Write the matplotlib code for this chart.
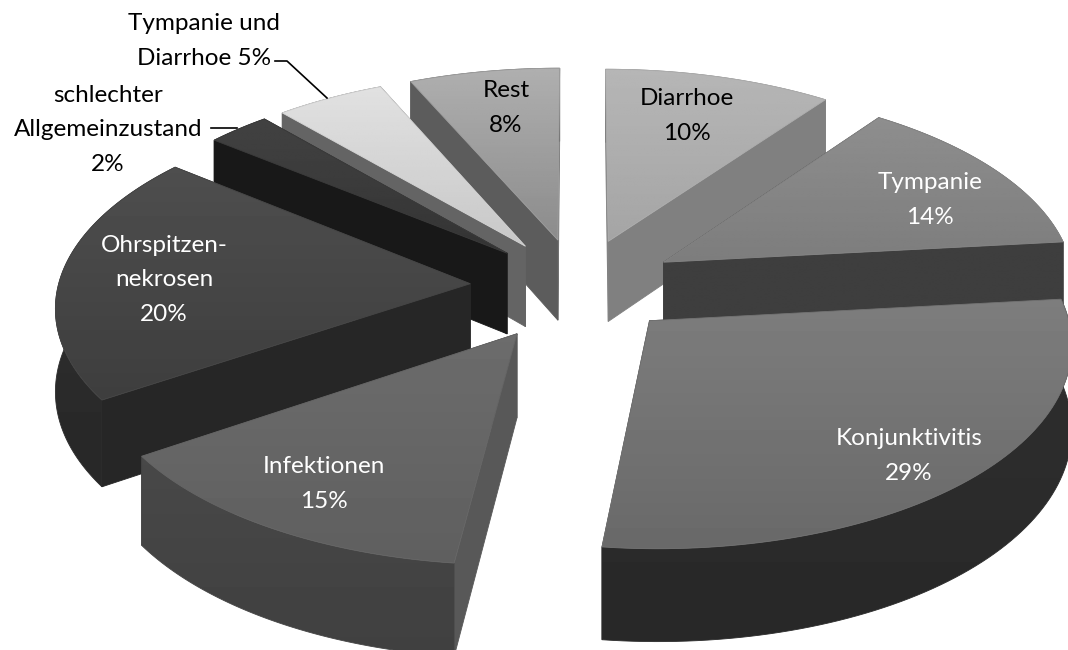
import numpy as np
import matplotlib
matplotlib.use("Agg")
import matplotlib.pyplot as plt
from matplotlib.patches import Polygon

# clockwise from 12 o'clock
names = ["Diarrhoe", "Tympanie", "Konjunktivitis", "Infektionen", "Ohrspitzen-\nnekrosen",
         "schlechter\nAllgemeinzustand", "Tympanie und\nDiarrhoe", "Rest"]
values = [10, 14, 29, 15, 20, 2, 5, 8]
# slice sizes, the printed labels add up to 103
shares = [10.0, 13.3, 28.6, 13.7, 20.2, 2.8, 4.8, 6.6]
seps = ["\n", "\n", "\n", "\n", "\n", "\n", " ", "\n"]

# grey levels: top (far, near), outer wall, cut wall at start angle, cut wall at end angle
top_grey = [(182, 165), (142, 125), (125, 105), (108, 95), (78, 62), (66, 52), (225, 200), (175, 140)]
outer_grey = [130, 90, 48, 72, 48, 40, 110, 100]
start_grey = [130, 62, 60, 88, 38, 24, 100, 92]
end_grey = [128, 62, 60, 60, 45, 40, 100, 125]

label_x = [687, 930, 909, 324, 164, 108, 204, 506]
label_y = [116, 200, 456, 484, 280, 130, 41, 108]
label_col = ["black", "white", "white", "white", "white", "black", "black", "black"]
explode = [100, 100, 100, 114, 108, 100, 100, 100]

CX, CY = 578, 286
R = 412
TILT = 0.48
PERSP = 0.10
WALL = 82


def project(x, y, z=0.0):
    s = 1.0 / (1.0 + PERSP * y / R)
    return CX + x * s, CY - y * TILT * s + z * s


layer = [1]


def shade(ax, pts, g0, g1):
    # vertical grey gradient clipped to the polygon
    pts = np.array(pts)
    y0, y1 = pts[:, 1].min(), pts[:, 1].max()
    x0, x1 = pts[:, 0].min(), pts[:, 0].max()
    grad = np.linspace(g0, g1, 64).reshape(-1, 1)
    im = ax.imshow(grad, cmap="gray", vmin=0, vmax=255, aspect="auto",
                   extent=(x0, x1, y1, y0), interpolation="bilinear", zorder=layer[0])
    patch = Polygon(pts, closed=True, transform=ax.transData, fc="none", ec="none")
    ax.add_patch(patch)
    im.set_clip_path(patch)
    # edge line hides the clip seam
    ax.add_patch(Polygon(pts, closed=True, fc="none", ec=str((g0 + g1) / 510.0), lw=0.6,
                         zorder=layer[0] + 0.5))
    layer[0] += 1


fig = plt.figure(figsize=(10.68, 6.5), dpi=100)
ax = fig.add_axes([0, 0, 1, 1])

fractions = np.array(shares) / sum(shares)
edges = np.concatenate([[0], np.cumsum(fractions)]) * 2 * np.pi
mids = (edges[:-1] + edges[1:]) / 2

# far slices first so the near ones paint over them
order = np.argsort(-np.cos(mids))
for i in order:
    ox, oy = explode[i] * np.sin(mids[i]), explode[i] * np.cos(mids[i])
    t = np.linspace(edges[i], edges[i + 1], 80)
    ax_x = ox + R * np.sin(t)
    ax_y = oy + R * np.cos(t)

    tip_top = project(ox, oy)
    tip_bot = project(ox, oy, WALL)
    arc_top = list(zip(*project(ax_x, ax_y)))
    arc_bot = list(zip(*project(ax_x, ax_y, WALL)))

    wall_a = ([tip_top, arc_top[0], arc_bot[0], tip_bot], start_grey[i])
    wall_b = ([tip_top, arc_top[-1], arc_bot[-1], tip_bot], end_grey[i])
    if arc_top[0][1] < arc_top[-1][1]:
        far, near = wall_a, wall_b
    else:
        far, near = wall_b, wall_a
    rim = arc_top + arc_bot[::-1]

    shade(ax, far[0], far[1], far[1])
    # back slices show the cut wall over the rim, front slices the other way round
    if np.cos(mids[i]) > 0:
        shade(ax, rim, outer_grey[i], outer_grey[i] - 8)
        shade(ax, near[0], near[1], near[1])
    else:
        shade(ax, near[0], near[1], near[1])
        shade(ax, rim, outer_grey[i], outer_grey[i] - 8)
    shade(ax, [tip_top] + arc_top, top_grey[i][0], top_grey[i][1])

for i in range(len(names)):
    ax.text(label_x[i], label_y[i], names[i] + seps[i] + f"{values[i]}%", color=label_col[i],
            family="Lato", fontsize=17.5, ha="center", va="center", linespacing=1.8,
            zorder=layer[0] + 1)

# leader lines
ax.plot([275, 287, 327], [61, 61, 98], color="black", lw=1.2, zorder=layer[0] + 1)
ax.plot([211, 237], [128, 128], color="black", lw=1.2, zorder=layer[0] + 1)

ax.set_xlim(0, 1068)
ax.set_ylim(650, 0)
ax.axis("off")
fig.savefig("out.png", dpi=100, facecolor="white")
